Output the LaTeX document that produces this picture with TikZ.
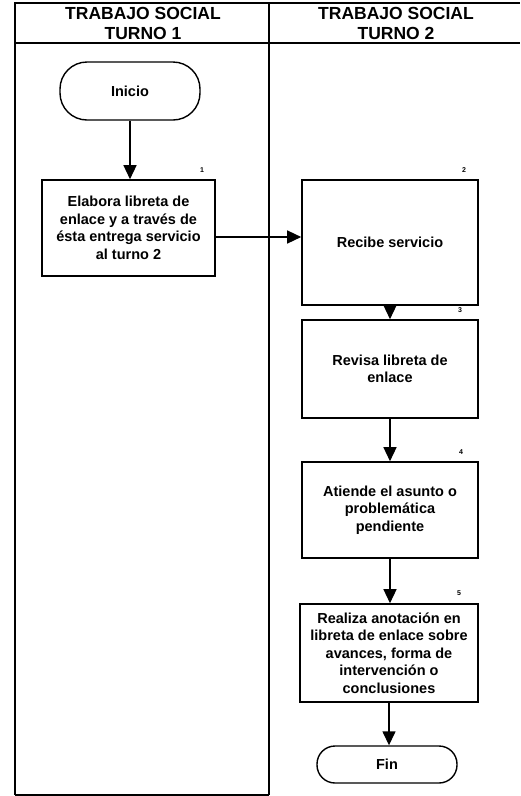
\documentclass[tikz,border=0pt]{standalone}
\usepackage{fontspec}
\setmainfont{Liberation Sans}
\usetikzlibrary{arrows.meta}
\begin{document}
\begin{tikzpicture}[x=1pt,y=-1pt,
  lane/.style={line width=1.8pt},
  stepbox/.style={draw,line width=1.6pt,align=center,inner sep=0pt,
    font=\fontsize{14.5}{17.5}\selectfont\bfseries},
  terminal/.style={draw,line width=1.4pt,inner sep=0pt,
    font=\fontsize{14.5}{17.5}\selectfont\bfseries},
  flow/.style={line width=1.4pt,-{Triangle[length=14pt,width=13pt]}},
  stepnum/.style={font=\fontsize{7}{8}\selectfont\bfseries},
  header/.style={align=center,font=\fontsize{17.5}{20}\selectfont\bfseries}]
\useasboundingbox (0,0) rectangle (520,796);

% swimlane frame
\draw[lane] (15,795) -- (15,3) -- (520,3);
\draw[lane] (15,43) -- (520,43);
\draw[lane] (269,3) -- (269,795);
\draw[lane] (15,795) -- (269,795);

% lane titles
\node[header] (h1) at (143,23) {TRABAJO SOCIAL\\TURNO 1};
\node[header] (h2) at (396,23) {TRABAJO SOCIAL\\TURNO 2};

% flow elements
\node[terminal,rounded corners=27pt,minimum width=140pt,minimum height=58pt] (inicio) at (130,91) {Inicio};
\node[stepbox,minimum width=173pt,minimum height=96pt] (b1) at (128.5,228)
  {Elabora libreta de\\enlace y a través de\\ésta entrega servicio\\al turno 2};
\node[stepbox,minimum width=176pt,minimum height=125pt] (b2) at (390,242.5)
  {Recibe servicio};
\node[stepbox,minimum width=176pt,minimum height=98pt] (b3) at (390,369)
  {Revisa libreta de\\enlace};
\node[stepbox,minimum width=176pt,minimum height=96pt] (b4) at (390,510)
  {Atiende el asunto o\\problemática\\pendiente};
\node[stepbox,minimum width=178pt,minimum height=98pt] (b5) at (389,653)
  {Realiza anotación en\\libreta de enlace sobre\\avances, forma de\\intervención o\\conclusiones};
\node[terminal,rounded corners=18pt,minimum width=140pt,minimum height=37pt] (fin) at (387,764.5) {Fin};

% step numbers
\node[stepnum] (n1) at (202,170) {1};
\node[stepnum] (n2) at (464,170) {2};
\node[stepnum] (n3) at (460,310) {3};
\node[stepnum] (n4) at (461,452) {4};
\node[stepnum] (n5) at (459,593) {5};

% connectors
\draw[flow] (inicio.south) -- (inicio.south |- b1.north);
\draw[flow] (b1.east |- 0,237) -- (b2.west |- 0,237);
\draw[flow] (b2.south) -- (b3.north);
\draw[flow] (b3.south) -- (b4.north);
\draw[flow] (b4.south) -- (b4.south |- b5.north);
\draw[flow] (b5.south) -- (b5.south |- fin.north);
\end{tikzpicture}
\end{document}
